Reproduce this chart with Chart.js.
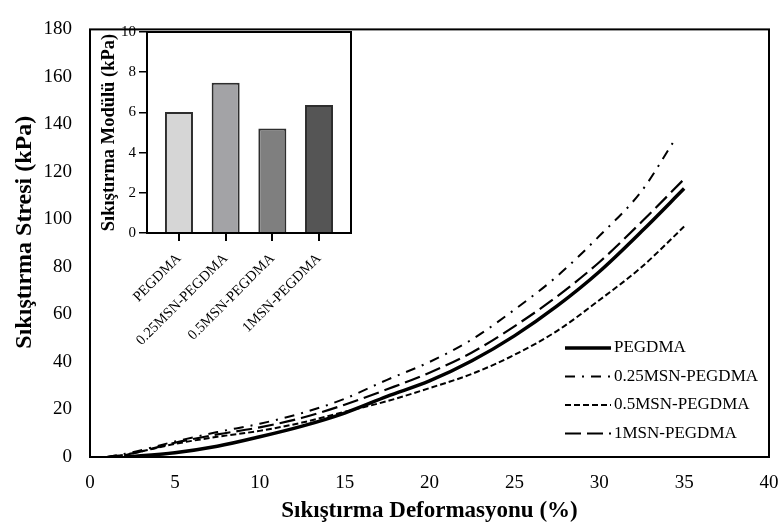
<!DOCTYPE html>
<html>
<head>
<meta charset="utf-8">
<script src="https://cdn.jsdelivr.net/npm/chart.js@4.4.1/dist/chart.umd.min.js"></script>
<style>
  body { margin: 0; background: #fff; }
  #wrap { position: relative; width: 781px; height: 529px; }
  #mainChart { position: absolute; left: 0; top: 0; }
  #insetChart { position: absolute; left: 60px; top: 10px; }
</style>
</head>
<body>
<div id="wrap">
  <canvas id="mainChart" width="781" height="529"></canvas>
  <canvas id="insetChart" width="300" height="360"></canvas>
</div>
<script>
// strain (%) / stress (kPa) curves
var seriesNames = ["PEGDMA", "0.25MSN-PEGDMA", "0.5MSN-PEGDMA", "1MSN-PEGDMA"];

var pegdmaX = [2, 5, 7.5, 10, 12.5, 15, 17.5, 20, 22.5, 25, 27.5, 30, 32.5, 35];
var pegdmaY = [0, 1.8, 4.5, 8.5, 13, 18.5, 25.5, 32, 40.5, 51, 63.5, 78, 95, 113];

var msn025X = [1, 2.5, 5, 7.5, 10, 12.5, 15, 17.5, 20, 22.5, 25, 27.5, 30, 32.5, 34.4];
var msn025Y = [0, 2, 6.5, 10.5, 14, 18.5, 24.5, 32.5, 40, 49.5, 62, 76, 93, 112, 133];

var msn05X = [1.5, 2.5, 5, 7.5, 10, 12.5, 15, 17.5, 20, 22.5, 25, 27.5, 30, 32.5, 35];
var msn05Y = [0, 1.5, 5.5, 8.5, 11, 14.5, 19, 23.5, 29, 35, 43, 53, 66, 80, 97];

var msn1X = [1, 2.5, 5, 7.5, 10, 12.5, 15, 17.5, 20, 22.5, 25, 27.5, 30, 32.5, 35];
var msn1Y = [0, 1.5, 6, 9.5, 12.5, 16.5, 22, 28.5, 35.5, 44, 55, 67.5, 82, 99, 117];

var xTicks = [0, 5, 10, 15, 20, 25, 30, 35, 40];
var yTicks = [0, 20, 40, 60, 80, 100, 120, 140, 160, 180];

// inset: compressive modulus (kPa)
var insetCategories = ["PEGDMA", "0.25MSN-PEGDMA", "0.5MSN-PEGDMA", "1MSN-PEGDMA"];
var insetValues = [6.02, 7.48, 5.2, 6.37];
var insetTicks = [0, 2, 4, 6, 8, 10];

var serif = '"Liberation Serif", "Times New Roman", serif';
Chart.defaults.font.family = serif;
Chart.defaults.color = '#000';

function pts(xs, ys) {
  return xs.map(function (x, i) { return { x: x, y: ys[i] }; });
}

function lineSet(label, data, width, dash) {
  return {
    label: label,
    data: data,
    borderColor: '#000',
    borderWidth: width,
    borderDash: dash,
    pointRadius: 0,
    fill: false,
    cubicInterpolationMode: 'monotone'
  };
}

function noSidePad(s) {
  s.paddingLeft = 0;
  s.paddingRight = 0;
}

var frame = {
  id: 'frame',
  afterDraw: function (chart) {
    var a = chart.chartArea, ctx = chart.ctx;
    ctx.save();
    ctx.strokeStyle = '#000';
    ctx.lineWidth = 2;
    ctx.setLineDash([]);
    ctx.strokeRect(a.left, a.top, a.right - a.left, a.bottom - a.top);
    ctx.restore();
  }
};

// legend drawn inside the plot, lower right
var innerLegend = {
  id: 'innerLegend',
  afterDraw: function (chart) {
    var ctx = chart.ctx;
    var rows = [348, 376.5, 405, 433.5];
    ctx.save();
    chart.data.datasets.forEach(function (ds, i) {
      ctx.beginPath();
      ctx.strokeStyle = '#000';
      ctx.lineWidth = ds.borderWidth;
      ctx.setLineDash(ds.borderDash || []);
      ctx.moveTo(565, rows[i]);
      ctx.lineTo(611, rows[i]);
      ctx.stroke();
      ctx.setLineDash([]);
      ctx.fillStyle = '#000';
      ctx.font = '17px ' + serif;
      ctx.textBaseline = 'middle';
      ctx.fillText(ds.label, 614, rows[i]);
    });
    ctx.restore();
  }
};

// y title sits a little above the middle of the axis in the original
var yTitle = {
  id: 'yTitle',
  afterDraw: function (chart) {
    var ctx = chart.ctx, a = chart.chartArea;
    ctx.save();
    ctx.translate(25, (a.top + a.bottom) / 2 - 11);
    ctx.rotate(-Math.PI / 2);
    ctx.fillStyle = '#000';
    ctx.font = 'bold 24px ' + serif;
    ctx.textAlign = 'center';
    ctx.textBaseline = 'middle';
    ctx.fillText('Sıkıştırma Stresi (kPa)', 0, 0);
    ctx.restore();
  }
};

new Chart(document.getElementById('mainChart'), {
  type: 'line',
  data: {
    datasets: [
      lineSet(seriesNames[0], pts(pegdmaX, pegdmaY), 3.5, []),
      lineSet(seriesNames[1], pts(msn025X, msn025Y), 2, [10, 7, 2, 7]),
      lineSet(seriesNames[2], pts(msn05X, msn05Y), 2, [6, 3]),
      lineSet(seriesNames[3], pts(msn1X, msn1Y), 2.2, [16, 6])
    ]
  },
  options: {
    responsive: false,
    animation: false,
    layout: { padding: { top: 17, right: 12, left: 0, bottom: 0 } },
    plugins: { legend: { display: false }, tooltip: { enabled: false } },
    scales: {
      x: {
        type: 'linear', min: 0, max: 40,
        afterBuildTicks: function (s) { s.ticks = xTicks.map(function (v) { return { value: v }; }); },
        afterFit: function (s) { s.height = 72; noSidePad(s); },
        grid: { display: false, drawTicks: false },
        border: { display: false },
        ticks: { padding: 15, maxRotation: 0, font: { size: 19 } },
        title: {
          display: true, text: 'Sıkıştırma Deformasyonu (%)',
          font: { size: 23, weight: 'bold' }, padding: { bottom: 4 }
        }
      },
      y: {
        min: 0, max: 180,
        afterBuildTicks: function (s) { s.ticks = yTicks.map(function (v) { return { value: v }; }); },
        afterFit: function (s) { s.width = 90; },
        grid: { display: false, drawTicks: false },
        border: { display: false },
        ticks: { padding: 18, font: { size: 19 } }
      }
    }
  },
  plugins: [frame, innerLegend, yTitle]
});

// inset bar chart
new Chart(document.getElementById('insetChart'), {
  type: 'bar',
  data: {
    datasets: [{
      data: insetValues.map(function (v, i) { return { x: i, y: v }; }),
      backgroundColor: ['#d6d6d6', '#a3a3a6', '#7f7f7f', '#555555'],
      borderColor: '#2e2e2e',
      borderWidth: 2,
      categoryPercentage: 1,
      barPercentage: 0.6
    }]
  },
  options: {
    responsive: false,
    animation: false,
    layout: { padding: { top: 22, right: 9, left: 0, bottom: 0 } },
    plugins: { legend: { display: false }, tooltip: { enabled: false } },
    scales: {
      x: {
        type: 'linear', min: -0.685, max: 3.685, offset: false,
        afterBuildTicks: function (s) { s.ticks = insetCategories.map(function (c, i) { return { value: i }; }); },
        afterFit: function (s) { s.height = 137; noSidePad(s); },
        grid: { display: true, drawOnChartArea: false, drawTicks: true, tickLength: 8, color: '#000', lineWidth: 2, offset: false },
        border: { display: false },
        ticks: {
          autoSkip: false, minRotation: 45, maxRotation: 45, padding: 9,
          font: { size: 14.5 },
          callback: function (v) { return insetCategories[v]; }
        }
      },
      y: {
        min: 0, max: 10,
        afterBuildTicks: function (s) { s.ticks = insetTicks.map(function (v) { return { value: v }; }); },
        afterFit: function (s) { s.width = 87; },
        grid: { display: true, drawOnChartArea: false, drawTicks: true, tickLength: 8, color: '#000', lineWidth: 1.5 },
        border: { display: false },
        ticks: { padding: 3, font: { size: 15 } },
        title: {
          display: true, text: 'Sıkıştırma Modülü (kPa)',
          font: { size: 18.5, weight: 'bold' }, padding: { top: 38 }
        }
      }
    }
  },
  plugins: [frame]
});
</script>
</body>
</html>
